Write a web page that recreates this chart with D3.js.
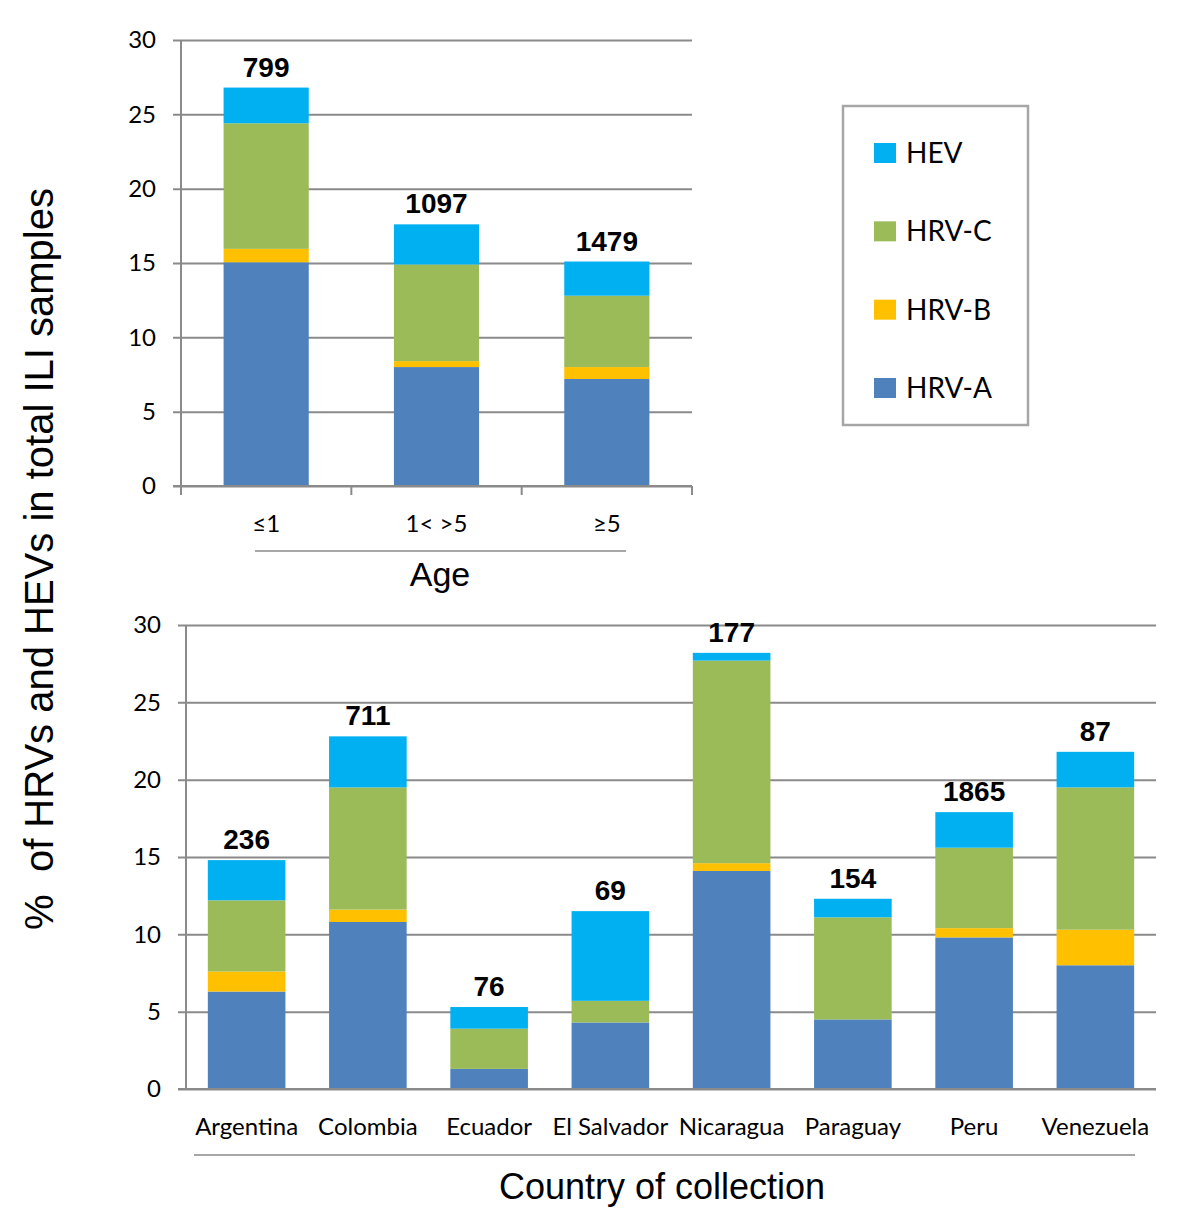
<!DOCTYPE html>
<html>
<head>
<meta charset="utf-8">
<script src="https://cdn.jsdelivr.net/npm/d3@7"></script>
<style>
  body { margin: 0; background: #fff; }
  svg { display: block; }
  .tick text { font-family: Lato, "Liberation Sans", sans-serif; fill: #000; }
</style>
</head>
<body>
<div id="chart"></div>
<script>
// series order bottom -> top
var types = ["HRV-A", "HRV-B", "HRV-C", "HEV"];
var colors = ["#4F81BD", "#FFC000", "#9BBB59", "#00B0F0"];
var yTicks = [0, 5, 10, 15, 20, 25, 30];

// top panel: by age
var ageGroups = ["≤1", "1< >5", "≥5"];
var ageN = [799, 1097, 1479];
var ageHRVA = [15.05, 8.0, 7.2];
var ageHRVB = [0.9, 0.4, 0.8];
var ageHRVC = [8.45, 6.5, 4.8];
var ageHEV = [2.4, 2.7, 2.3];

// bottom panel: by country
var countries = ["Argentina", "Colombia", "Ecuador", "El Salvador", "Nicaragua", "Paraguay", "Peru", "Venezuela"];
var countryN = [236, 711, 76, 69, 177, 154, 1865, 87];
var countryHRVA = [6.3, 10.8, 1.3, 4.3, 14.1, 4.5, 9.8, 8.0];
var countryHRVB = [1.3, 0.8, 0, 0, 0.5, 0, 0.6, 2.3];
var countryHRVC = [4.6, 7.9, 2.6, 1.4, 13.1, 6.6, 5.2, 9.2];
var countryHEV = [2.6, 3.3, 1.4, 5.8, 0.5, 1.2, 2.3, 2.3];

var gridColor = "#8a8a8a";

var svg = d3.select("#chart").append("svg")
  .attr("width", 1200)
  .attr("height", 1217);

function rows(cats, n, a, b, c, e) {
  return cats.map(function(d, i) {
    return {cat: d, n: n[i], "HRV-A": a[i], "HRV-B": b[i], "HRV-C": c[i], "HEV": e[i]};
  });
}

function panel(opt) {
  var data = rows(opt.cats, opt.n, opt.a, opt.b, opt.c, opt.e);
  var x = d3.scaleBand().domain(opt.cats)
    .range([opt.left, opt.right])
    .paddingInner(opt.pad).paddingOuter(opt.pad / 2);
  var y = d3.scaleLinear().domain([0, 30]).range([opt.bottom, opt.top]);
  var g = svg.append("g");

  // gridlines + y labels
  var yAxis = d3.axisLeft(y).tickValues(yTicks)
    .tickSize(-(opt.right - opt.left + 8))
    .tickPadding(17);
  var ya = g.append("g")
    .attr("transform", "translate(" + (opt.left - 8) + ",0)")
    .call(yAxis);
  ya.select(".domain").remove();
  ya.selectAll(".tick line").attr("stroke", gridColor).attr("stroke-width", 2);
  ya.selectAll(".tick text").style("font-size", "24px");

  // y axis line
  g.append("line")
    .attr("x1", opt.left).attr("x2", opt.left)
    .attr("y1", y(30)).attr("y2", y(0) + (opt.boundTicks ? 9 : 0))
    .attr("stroke", gridColor).attr("stroke-width", 2);

  // stacked bars
  var series = d3.stack().keys(types)(data);
  g.selectAll("g.series")
    .data(series)
    .enter().append("g")
    .attr("class", "series")
    .attr("fill", function(d, i) { return colors[i]; })
    .selectAll("rect")
    .data(function(d) { return d; })
    .enter().append("rect")
    .attr("x", function(d) { return x(d.data.cat); })
    .attr("width", x.bandwidth())
    .attr("y", function(d) { return y(d[1]); })
    .attr("height", function(d) { return y(d[0]) - y(d[1]); });

  // redraw 0 line over bars
  g.append("line")
    .attr("x1", opt.left - 8).attr("x2", opt.right)
    .attr("y1", y(0)).attr("y2", y(0))
    .attr("stroke", gridColor).attr("stroke-width", 2);

  // category boundary ticks
  if (opt.boundTicks) {
    g.selectAll("line.bt")
      .data(d3.range(opt.cats.length + 1))
      .enter().append("line")
      .attr("class", "bt")
      .attr("x1", function(i) { return opt.left + i * x.step(); })
      .attr("x2", function(i) { return opt.left + i * x.step(); })
      .attr("y1", y(0)).attr("y2", y(0) + 9)
      .attr("stroke", gridColor).attr("stroke-width", 2);
  }

  // x labels
  var xAxis = d3.axisBottom(x).tickSize(0).tickPadding(opt.xPad);
  var xa = g.append("g")
    .attr("transform", "translate(0," + y(0) + ")")
    .call(xAxis);
  xa.select(".domain").remove();
  xa.selectAll(".tick text").style("font-size", "24px");

  // sample size labels
  g.selectAll("text.n")
    .data(data)
    .enter().append("text")
    .attr("class", "n")
    .attr("x", function(d) { return x(d.cat) + x.bandwidth() / 2; })
    .attr("y", function(d) { return y(d["HRV-A"] + d["HRV-B"] + d["HRV-C"] + d["HEV"]) - 11; })
    .attr("text-anchor", "middle")
    .style("font-family", "'Liberation Sans', Arial, sans-serif")
    .style("font-weight", "bold")
    .style("font-size", "28px")
    .text(function(d) { return d.n; });

  // underline + title
  g.append("line")
    .attr("x1", opt.lineX[0]).attr("x2", opt.lineX[1])
    .attr("y1", opt.lineY).attr("y2", opt.lineY)
    .attr("stroke", gridColor).attr("stroke-width", 1.5);
  g.append("text")
    .attr("x", opt.titleX).attr("y", opt.titleY)
    .attr("text-anchor", "middle")
    .style("font-family", "'Liberation Sans', Arial, sans-serif")
    .style("font-size", opt.titleSize + "px")
    .text(opt.title);
}

panel({
  cats: ageGroups, n: ageN, a: ageHRVA, b: ageHRVB, c: ageHRVC, e: ageHEV,
  left: 181, right: 692, top: 40, bottom: 486, pad: 0.5,
  boundTicks: true, xPad: 29,
  lineX: [255, 626], lineY: 551,
  title: "Age", titleX: 440, titleY: 586, titleSize: 34
});

panel({
  cats: countries, n: countryN, a: countryHRVA, b: countryHRVB, c: countryHRVC, e: countryHEV,
  left: 186, right: 1156, top: 625, bottom: 1089, pad: 0.36,
  boundTicks: false, xPad: 29,
  lineX: [194, 1135], lineY: 1155,
  title: "Country of collection", titleX: 662, titleY: 1199, titleSize: 36
});

// y axis title
svg.append("text")
  .attr("transform", "translate(53,559) rotate(-90)")
  .attr("text-anchor", "middle")
  .style("white-space", "pre")
  .style("font-family", "'Liberation Sans', Arial, sans-serif")
  .style("font-size", "40px")
  .text("%  of HRVs and HEVs in total ILI samples");

// legend
var legend = svg.append("g").attr("id", "legend");
legend.append("rect")
  .attr("x", 843).attr("y", 106)
  .attr("width", 185).attr("height", 319)
  .attr("fill", "#fff")
  .attr("stroke", "#a6a6a6").attr("stroke-width", 2.5);
var legendOrder = types.slice().reverse();
var ly = d3.scalePoint().domain(legendOrder).range([153, 388]);
var items = legend.selectAll("g.item")
  .data(legendOrder)
  .enter().append("g")
  .attr("class", "item")
  .attr("transform", function(d) { return "translate(874," + ly(d) + ")"; });
items.append("rect")
  .attr("x", 0).attr("y", -10)
  .attr("width", 22).attr("height", 20)
  .attr("fill", function(d) { return colors[types.indexOf(d)]; });
items.append("text")
  .attr("x", 32).attr("dy", "0.36em")
  .style("font-family", "Lato, 'Liberation Sans', sans-serif")
  .style("font-size", "28px")
  .text(function(d) { return d; });
</script>
</body>
</html>
